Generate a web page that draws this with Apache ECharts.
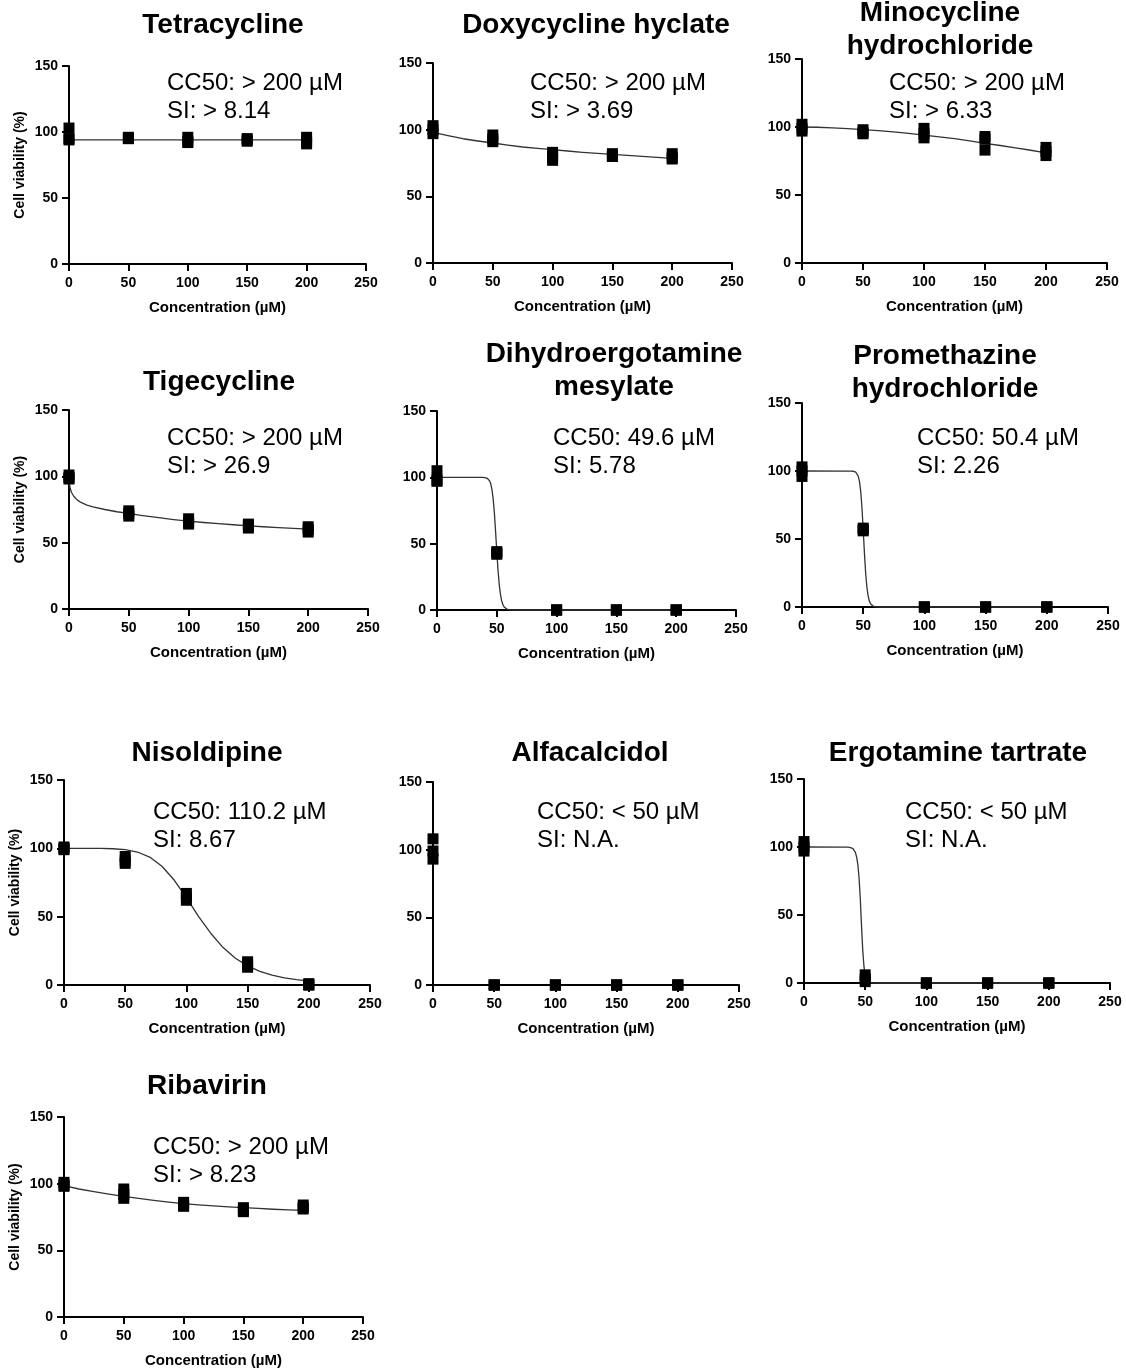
<!DOCTYPE html>
<html><head><meta charset="utf-8">
<script src="https://cdn.jsdelivr.net/npm/echarts@6/dist/echarts.min.js"></script>
<style>html,body{margin:0;padding:0;background:#fff}#c{width:1126px;height:1371px}</style>
</head><body><div id="c"></div>
<script>
// ---------------- DATA ----------------
const concentrations = [0, 50, 100, 150, 200];
const drugNames = ['Tetracycline', 'Doxycycline hyclate', 'Minocycline\nhydrochloride', 'Tigecycline',
  'Dihydroergotamine\nmesylate', 'Promethazine\nhydrochloride', 'Nisoldipine', 'Alfacalcidol',
  'Ergotamine tartrate', 'Ribavirin'];
const cc50Labels = ['CC50: > 200 µM', 'CC50: > 200 µM', 'CC50: > 200 µM', 'CC50: > 200 µM', 'CC50: 49.6 µM',
  'CC50: 50.4 µM', 'CC50: 110.2 µM', 'CC50: < 50 µM', 'CC50: < 50 µM', 'CC50: > 200 µM'];
const siLabels = ['SI: > 8.14', 'SI: > 3.69', 'SI: > 6.33', 'SI: > 26.9', 'SI: 5.78', 'SI: 2.26',
  'SI: 8.67', 'SI: N.A.', 'SI: N.A.', 'SI: > 8.23'];
const xAxisName = 'Concentration (µM)';
const yAxisName = 'Cell viability (%)';

// replicate viability values (%) per concentration
const tetracyclineReps = [[103, 95, 94], [96, 95, 95], [96, 93, 92], [95, 94, 93], [96, 93, 91]];
const doxycyclineReps = [[103, 100, 97], [96, 93, 91], [83, 80, 77], [82, 80, 80], [82, 79, 78]];
const minocyclineReps = [[102, 99, 97], [98, 96, 95], [99, 95, 92], [93, 91, 83], [85, 82, 79]];
const tigecyclineReps = [[101, 99, 98], [74, 72, 70], [68, 65, 64], [64, 63, 61], [62, 60, 58]];
const dihydroergotamineReps = [[105, 98, 97], [44, 43, 42], [0, 0, 0], [0, 0, 0], [0, 0, 0]];
const promethazineReps = [[103, 100, 96], [58, 57, 56], [0, 0, 0], [0, 0, 0], [0, 0, 0]];
const nisoldipineReps = [[101, 100, 99], [94, 91, 89], [67, 64, 62], [17, 15, 13], [1, 0, 0]];
const alfacalcidolReps = [[108, 99, 93], [0, 0, 0], [0, 0, 0], [0, 0, 0], [0, 0, 0]];
const ergotamineReps = [[104, 100, 97], [6, 3, 1], [0, 0, 0], [0, 0, 0], [0, 0, 0]];
const ribavirinReps = [[101, 99, 98], [96, 92, 89], [86, 84, 83], [82, 80, 79], [84, 82, 81]];

// fitted curves as [concentration, viability]
const tetracyclineFit = [[0, 94], [100, 94], [200, 94]];
const doxycyclineFit = [[0, 98], [12.5, 95.5], [25, 93.2], [37.5, 91.5], [50, 90], [62.5, 88.4], [75, 87], [87.5, 86], [100, 85], [112.5, 84], [125, 83], [137.5, 82.2], [150, 81.5], [162.5, 80.7], [175, 80], [187.5, 79.2], [200, 78.5]];
const minocyclineFit = [[0, 100], [12.5, 99.8], [25, 99.4], [37.5, 98.8], [50, 98], [62.5, 97.3], [75, 96.4], [87.5, 95.3], [100, 94], [112.5, 92.8], [125, 91.4], [137.5, 89.8], [150, 88], [162.5, 86.4], [175, 84.7], [187.5, 82.9], [200, 81]];
const tigecyclineFit = [[0, 97], [1, 91], [2, 88], [4, 85], [6, 83], [8, 81.5], [10, 80.3], [15, 78.3], [20, 77], [30, 75], [40, 73.3], [50, 72], [60, 70.6], [75, 68.8], [87.5, 67.4], [100, 66.2], [112.5, 65.2], [125, 64.3], [137.5, 63.5], [150, 62.7], [162.5, 62], [175, 61.3], [187.5, 60.7], [200, 60.2]];
const dihydroergotamineFit = [[0, 100], [38, 99.9], [40, 99.8], [42, 99.3], [43, 98.6], [44, 97.3], [45, 95], [46, 90.6], [47, 83.4], [48, 72.8], [49, 59], [49.6, 50], [50, 44], [51, 30.3], [52, 19.5], [53, 12.1], [54, 7.2], [55, 4.3], [56, 2.5], [57, 1.5], [58, 0.9], [60, 0.3], [65, 0], [200, 0]];
const promethazineFit = [[0, 100], [40, 99.9], [42, 99.8], [44, 99.1], [45, 98.1], [46, 96.1], [47, 92], [48, 84.7], [49, 72.8], [50, 57], [50.4, 50], [51, 39.8], [52, 25.1], [53, 14.7], [54, 8.2], [55, 4.5], [56, 2.4], [58, 0.7], [60, 0.2], [65, 0], [200, 0]];
const nisoldipineFit = [[0, 100], [10, 100], [20, 100], [30, 99.9], [40, 99.7], [50, 99.1], [60, 97.3], [70, 93.6], [80, 86.9], [90, 76.8], [100, 63.9], [110, 50.1], [120, 37.7], [130, 27.4], [140, 19.6], [150, 14], [160, 10], [170, 7.2], [180, 5.2], [190, 3.9], [200, 2.9]];
const alfacalcidolFit = null;
const ergotamineFit = [[0, 100], [36, 99.9], [38, 99.6], [40, 98.8], [41, 97.8], [42, 96], [43, 92.5], [44, 87], [45, 77], [46, 62], [47, 42], [48, 24], [49, 12], [50, 5.5], [51, 2.5], [52, 1.2], [54, 0.3], [58, 0], [200, 0]];
const ribavirinFit = [[0, 98.5], [12.5, 96], [25, 94], [37.5, 92.2], [50, 90.5], [62.5, 89], [75, 87.5], [87.5, 86.2], [100, 85], [112.5, 84.1], [125, 83.3], [137.5, 82.6], [150, 82], [162.5, 81.4], [175, 80.8], [187.5, 80.4], [200, 80]];

const allReps = [tetracyclineReps, doxycyclineReps, minocyclineReps, tigecyclineReps, dihydroergotamineReps,
  promethazineReps, nisoldipineReps, alfacalcidolReps, ergotamineReps, ribavirinReps];
const allFits = [tetracyclineFit, doxycyclineFit, minocyclineFit, tigecyclineFit, dihydroergotamineFit,
  promethazineFit, nisoldipineFit, alfacalcidolFit, ergotamineFit, ribavirinFit];

// ---------------- LAYOUT ----------------
const gridBoxes = [
  [69, 66, 297, 198], [433, 63, 299, 200], [802, 59, 305, 204],
  [69, 410, 299, 199], [437, 411, 299, 199], [802, 403, 306, 204],
  [64, 780, 306, 205], [433, 782, 306, 203], [804, 779, 306, 204],
  [64, 1117, 299, 200]
];
const titleCenters = [[223, 25], [596, 25], [940, 30], [219, 382], [614, 371], [945, 373], [207, 753], [590, 753], [958, 753], [207, 1086]];
const noteAnchors = [[167, 83], [530, 83], [889, 83], [167, 438], [553, 438], [917, 438], [153, 812], [537, 812], [905, 812], [153, 1147]];
const leftColumn = [0, 3, 6, 9];

const FONT = 'Liberation Sans, Arial, Helvetica, sans-serif';
const grids = [], xAxes = [], yAxes = [], series = [], graphics = [];

gridBoxes.forEach((b, i) => {
  grids.push({ left: b[0], top: b[1], width: b[2], height: b[3], containLabel: false, outerBoundsMode: 'none' });
  const axisLine = { show: true, onZero: false, lineStyle: { color: '#000', width: 2 } };
  const axisTick = { show: true, inside: false, length: 7, lineStyle: { color: '#000', width: 2 } };
  xAxes.push({
    gridIndex: i, type: 'value', min: 0, max: 250, interval: 50,
    axisLine, axisTick, splitLine: { show: false },
    axisLabel: { color: '#000', fontWeight: 'bold', fontSize: 14, fontFamily: FONT, margin: 12 },
    name: xAxisName, nameLocation: 'middle', nameGap: 36,
    nameTextStyle: { color: '#000', fontWeight: 'bold', fontSize: 15, fontFamily: FONT }
  });
  yAxes.push({
    gridIndex: i, type: 'value', min: 0, max: 150, interval: 50,
    axisLine, axisTick, splitLine: { show: false },
    axisLabel: { color: '#000', fontWeight: 'bold', fontSize: 14, fontFamily: FONT, margin: 11 },
    name: leftColumn.includes(i) ? yAxisName : '', nameLocation: 'middle', nameGap: 42,
    nameTextStyle: { color: '#000', fontWeight: 'bold', fontSize: 14, fontFamily: FONT }
  });
  const fit = allFits[i];
  if (fit) {
    series.push({
      type: 'line', xAxisIndex: i, yAxisIndex: i, data: fit, showSymbol: false, symbol: 'none',
      smooth: false, clip: false, silent: true,
      lineStyle: { color: '#333', width: 1.3, join: 'round' }, z: 2
    });
  }
  const pts = [];
  concentrations.forEach((c, k) => allReps[i][k].forEach(v => pts.push([c, v])));
  series.push({
    type: 'scatter', xAxisIndex: i, yAxisIndex: i, data: pts, symbol: 'rect', symbolSize: 11,
    clip: false, itemStyle: { color: '#000', opacity: 1 }, z: 3
  });
  graphics.push({
    type: 'text', x: titleCenters[i][0], y: titleCenters[i][1],
    style: { text: drugNames[i], fill: '#000', font: 'bold 28px ' + FONT, textAlign: 'center', textVerticalAlign: 'middle', lineHeight: 33 }
  });
  graphics.push({
    type: 'text', x: noteAnchors[i][0], y: noteAnchors[i][1] - 14,
    style: { text: cc50Labels[i] + '\n' + siLabels[i], fill: '#000', font: '24px ' + FONT, textAlign: 'left', textVerticalAlign: 'top', lineHeight: 28 }
  });
});

const chart = echarts.init(document.getElementById('c'), null, { renderer: 'canvas' });
chart.setOption({
  animation: false, backgroundColor: '#fff',
  grid: grids, xAxis: xAxes, yAxis: yAxes, series, graphic: graphics
});
</script></body></html>
